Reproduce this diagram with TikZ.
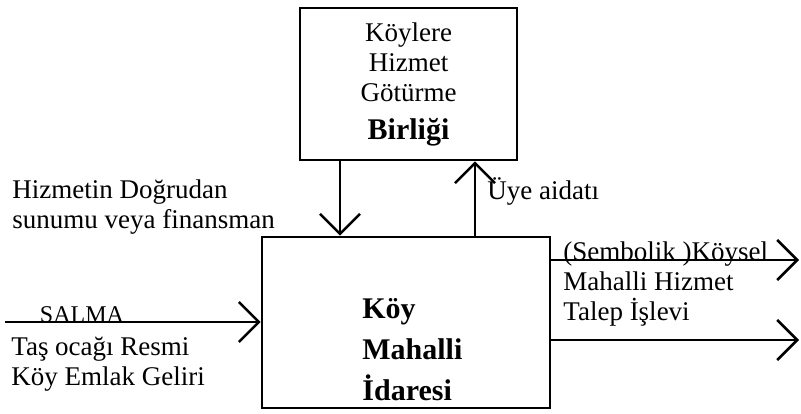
\documentclass[tikz,border=0pt]{standalone}
\usepackage{fontspec}
\setmainfont{Liberation Serif}
\usetikzlibrary{arrows.meta}
\tikzset{
  kutu/.style={draw, line width=1.3pt, inner sep=0pt},
  ok/.style={line width=1.3pt, -{Straight Barb[length=10pt,width=20pt]}},
  etiket/.style={font=\fontsize{13.5}{15}\selectfont, align=left, inner sep=0pt},
  kalin/.style={font=\fontsize{15}{20.5}\selectfont\bfseries, align=left, inner sep=0pt}
}
\begin{document}
\begin{tikzpicture}[x=0.5pt,y=-0.5pt]
\useasboundingbox (0,0) rectangle (801,413);
% kutular
\node[kutu, minimum width=108.5pt, minimum height=76pt, align=center,
  font=\fontsize{13.5}{15}\selectfont] (birlik) at (408.5,84)
  {Köylere\\Hizmet\\Götürme\\[4pt]{\fontsize{15}{17}\selectfont\bfseries Birliği}};
\node[kutu, minimum width=144pt, minimum height=85.5pt] (idare) at (406,322.5) {};
\node[kalin, anchor=north west] (idaremetin) at (362,298) {Köy\\Mahalli\\İdaresi};
% oklar
\coordinate (inis) at (340,0);
\coordinate (cikis) at (475,0);
\coordinate (salma) at (5,322);
\coordinate (talep) at (799,260);
\coordinate (hizmet) at (799,340);
\draw[ok] (birlik.south -| inis) -- (idare.north -| inis);
\draw[ok] (idare.north -| cikis) -- (birlik.south -| cikis);
\draw[ok] (salma) -- (salma -| idare.west);
\draw[ok] (idare.east |- talep) -- (talep);
\draw[ok] (idare.east |- hizmet) -- (hizmet);
% etiketler
\node[etiket, anchor=west] (dogrudan) at (12,207) {Hizmetin Doğrudan\\sunumu veya finansman};
\node[etiket, anchor=west] (aidat) at (487,191) {Üye aidatı};
\node[etiket, anchor=base, font=\fontsize{12}{14}\selectfont] (salmayazi) at (82,322) {SALMA};
\node[etiket, anchor=west] (tasocagi) at (11,364) {Taş ocağı Resmi\\Köy Emlak Geliri};
\node[etiket, anchor=north west] (sembolik) at (563,241) {(Sembolik )Köysel\\Mahalli Hizmet\\Talep İşlevi};
\end{tikzpicture}
\end{document}
